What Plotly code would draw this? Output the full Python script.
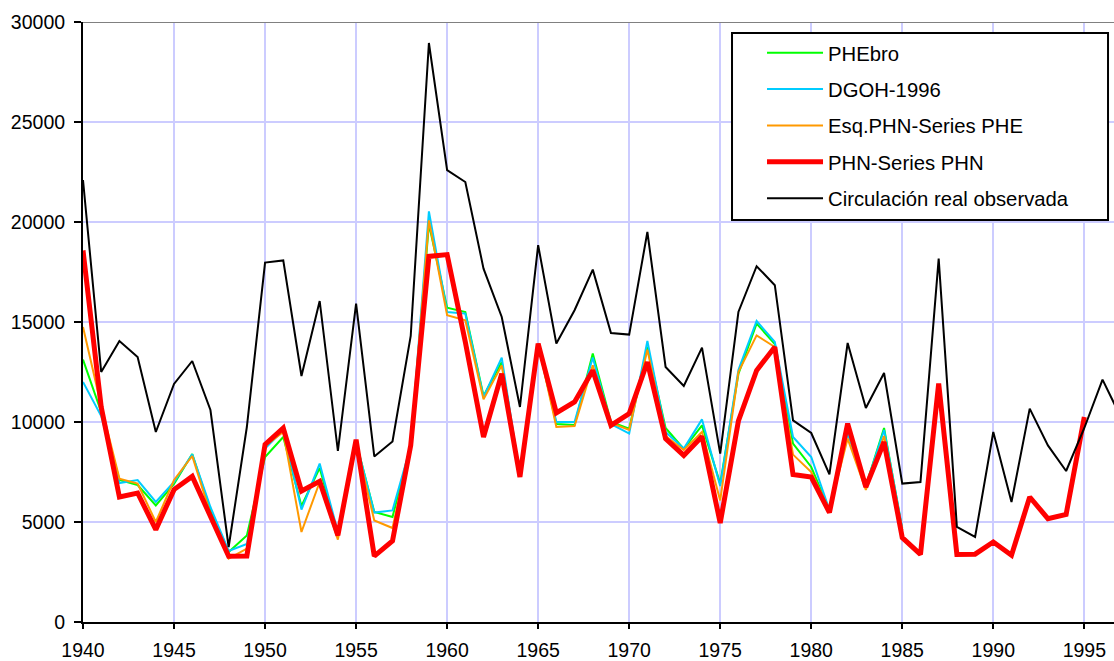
import plotly.graph_objects as go

years_obs = list(range(1940, 1998))
years_red = list(range(1940, 1996))
years_sim = list(range(1940, 1986))

circulacion = [22100, 12500, 14050, 13250, 9500, 11900, 13050, 10600, 3750, 9750,
               17970, 18080, 12300, 16050, 8550, 15920, 8280, 9030, 14300, 28950,
               22590, 22000, 17670, 15250, 10750, 18840, 13920, 15590, 17620, 14450,
               14370, 19500, 12750, 11800, 13720, 8420, 15500, 17790, 16840, 10080,
               9450, 7380, 13950, 10700, 12450, 6920, 7000, 18170, 4750, 4250,
               9500, 6000, 10670, 8830, 7550, 9700, 12120, 10250]

phn_phn = [18580, 10750, 6250, 6450, 4620, 6620, 7280, 5250, 3290, 3300,
           8880, 9700, 6550, 7030, 4330, 9120, 3290, 4050, 8830, 18280,
           18370, 14000, 9250, 12420, 7250, 13920, 10450, 11000, 12580, 9830,
           10420, 13000, 9170, 8330, 9280, 4950, 10050, 12580, 13750, 7370,
           7250, 5470, 9920, 6750, 9000, 4220, 3380, 11920, 3380, 3390,
           4000, 3340, 6250, 5170, 5380, 10250]

phebro = [13120, 10500, 7100, 6850, 5830, 6900, 8400, 5600, 3500, 4330,
          8250, 9250, 5800, 7700, 4400, 9000, 5500, 5250, 8800, 19900,
          15720, 15500, 11300, 13000, 7300, 13900, 9900, 9850, 13420, 10000,
          9670, 13750, 9700, 8650, 9830, 6920, 12400, 14920, 13900, 8920,
          7750, 5600, 9500, 6800, 9700, 4600]

dgoh = [12000, 10300, 6950, 7100, 6000, 7000, 8380, 5750, 3550, 3900,
        8670, 9600, 5620, 7920, 4500, 9000, 5470, 5580, 8800, 20530,
        15500, 15420, 11250, 13220, 7300, 13900, 10000, 10000, 13220, 9900,
        9420, 14050, 9500, 8670, 10130, 6800, 12600, 15050, 14000, 9250,
        8250, 5600, 9420, 6800, 9600, 4700]

esq_phe = [14750, 10800, 7170, 6920, 5000, 7100, 8300, 5400, 3170, 3670,
           8800, 9500, 4500, 7000, 4120, 8900, 5080, 4700, 8800, 20080,
           15340, 15090, 11130, 12830, 7300, 13900, 9750, 9800, 12830, 9950,
           9600, 13620, 9300, 8600, 9500, 6080, 12500, 14330, 13750, 8370,
           7500, 5600, 9170, 6600, 9300, 4600]

y_ticks = [0, 5000, 10000, 15000, 20000, 25000, 30000]
x_ticks = list(range(1940, 2000, 5))

FONT = "Liberation Sans, Arial, sans-serif"

fig = go.Figure()
series = [
    ("PHEbro", years_sim, phebro, "#00ff00", 2),
    ("DGOH-1996", years_sim, dgoh, "#00ccff", 2),
    ("Esq.PHN-Series PHE", years_sim, esq_phe, "#ff9900", 2),
    ("PHN-Series PHN", years_red, phn_phn, "#ff0000", 5),
    ("Circulación real observada", years_obs, circulacion, "#000000", 2),
]
for i, (name, xs, ys, col, w) in enumerate(series):
    fig.add_trace(go.Scatter(x=xs, y=ys, mode="lines", name=name,
                             legendgroup=f"g{i}",
                             line=dict(color=col, width=w)))

fig.update_layout(
    width=1114, height=661,
    margin=dict(l=83, r=0, t=22, b=39, autoexpand=False),
    paper_bgcolor="white", plot_bgcolor="white",
    font=dict(family=FONT, size=19.5, color="black"),
    showlegend=True,
    legend=dict(
        x=0.6295, y=0.9817, xanchor="left", yanchor="top",
        bgcolor="rgba(0,0,0,0)", borderwidth=0,
        font=dict(family=FONT, size=20.3, color="black"),
        traceorder="grouped", tracegroupgap=7,
        itemwidth=56, indentation=30,
    ),
    xaxis=dict(
        range=[1940, 1996.63], tickvals=x_ticks,
        showgrid=True, gridcolor="#ccccff", gridwidth=2,
        showline=True, linecolor="black", linewidth=2,
        ticks="outside", ticklen=5, tickcolor="black", tickwidth=2,
        zeroline=False, ticklabelstandoff=5, automargin=False,
    ),
    yaxis=dict(
        range=[0, 30000], tickvals=y_ticks,
        showgrid=True, gridcolor="#ccccff", gridwidth=2,
        showline=True, linecolor="black", linewidth=2,
        ticks="outside", ticklen=7, tickcolor="black", tickwidth=2,
        zeroline=False, tickformat="d", ticklabelstandoff=5, automargin=False,
    ),
)
fig.add_shape(type="line", xref="paper", yref="y", x0=0, x1=1, y0=30000, y1=30000,
              line=dict(color="#808080", width=2), layer="above")
# legend frame
fig.add_shape(type="rect", xref="paper", yref="paper",
              x0=0.6295, x1=0.9942, y0=0.67, y1=0.9817,
              fillcolor="white", line=dict(color="black", width=2), layer="above")

fig.write_html("out.html", config={"displayModeBar": False},
               post_script="document.body.style.margin='0';document.body.style.overflow='hidden';")
